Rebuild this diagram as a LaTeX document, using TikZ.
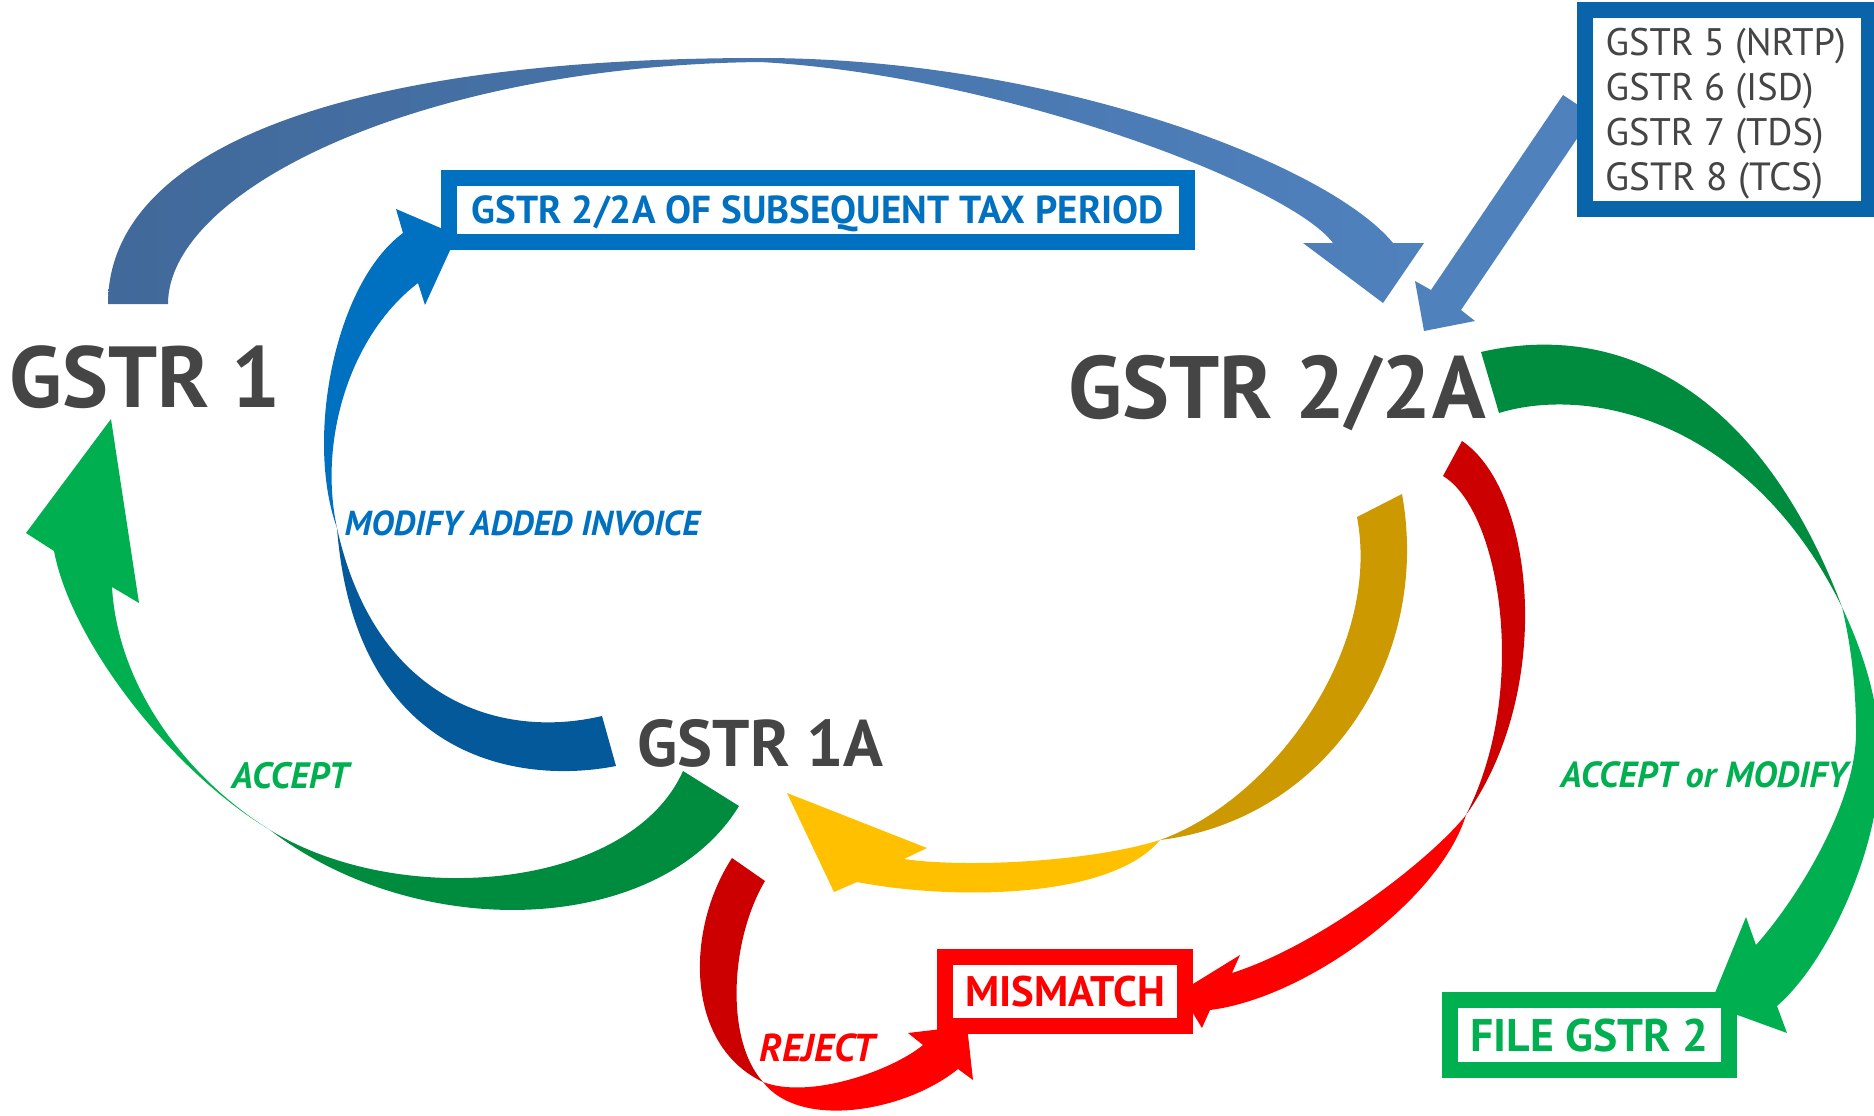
\documentclass[tikz,border=0pt]{standalone}
\usepackage{fontspec}
\setmainfont{PT Sans}
\usepackage{graphicx}
\definecolor{txtgray}{HTML}{454545}
\definecolor{boxblue}{HTML}{0070C0}
\definecolor{boxblueD}{HTML}{0A64A9}
\definecolor{arcL}{HTML}{41699A}
\definecolor{arcR}{HTML}{4F81BD}
\definecolor{modD}{HTML}{03599A}
\definecolor{greenD}{HTML}{008C3E}
\definecolor{greenB}{HTML}{00B050}
\definecolor{goldD}{HTML}{CC9900}
\definecolor{goldB}{HTML}{FFC000}
\definecolor{redD}{HTML}{CC0000}
\definecolor{redB}{HTML}{FF0000}
\newcommand{\fitw}[2]{\resizebox{#1}{!}{#2}}
\tikzset{
  big/.style={anchor=base west, inner sep=0pt, text=txtgray, font=\bfseries},
  small/.style={anchor=base west, inner sep=0pt, text=txtgray},
  lbl/.style={anchor=base west, inner sep=0pt, font=\bfseries\itshape},
  framebox/.style={draw, line width=1.6mm, fill=white, inner sep=0pt, text depth=0pt, font=\bfseries},
}
\begin{document}
\begin{tikzpicture}[x=0.1mm,y=-0.1mm]
\useasboundingbox (0,0) rectangle (1874,1116);

% top arc GSTR 1 -> GSTR 2/2A
\shade[left color=arcL, right color=arcR]
  (108,304) .. controls (108,150) and (340,58) .. (760,58)
  .. controls (1050,58) and (1327,163) .. (1393,243)
  -- (1424,243) -- (1383,303) -- (1303,243) -- (1333,243)
  .. controls (1290,185) and (1000,75) .. (760,62)
  .. controls (420,66) and (168,190) .. (168,304) -- cycle;

% straight arrow from GSTR 5-8 box
\fill[arcR] (1563,95) -- (1431,290) -- (1415,281) -- (1424,331) -- (1475,321) -- (1461,310) -- (1593,115) -- cycle;

% modify added invoice arrow
\fill[modD] (616,766) .. controls (520,785) and (355,760) .. (337,528)
  .. controls (375,700) and (500,740) .. (602,716) -- cycle;
\fill[boxblue] (337,528) .. controls (305,440) and (334,284) .. (403,233)
  -- (396,209) -- (457,235) -- (425,305) -- (418,283)
  .. controls (350,335) and (318,440) .. (337,528) -- cycle;

% accept arrow GSTR 1A -> GSTR 1
\fill[greenD] (739,806) .. controls (660,935) and (420,945) .. (270,830)
  .. controls (400,910) and (630,890) .. (683,771) -- cycle;
\fill[greenB] (270,830) .. controls (170,770) and (71,641) .. (54,551)
  -- (26,533) -- (111,419) -- (139,603) -- (112,587)
  .. controls (118,690) and (190,780) .. (270,830) -- cycle;

% yellow arrow GSTR 2/2A -> GSTR 1A
\fill[goldD] (1402,494) .. controls (1432,660) and (1325,820) .. (1160,840)
  .. controls (1272,800) and (1382,650) .. (1357,517) -- cycle;
\fill[goldB] (1160,840) .. controls (1090,862) and (965,868) .. (904,859)
  -- (927,848) -- (787,793) -- (834,892) -- (857,882)
  .. controls (950,900) and (1110,900) .. (1160,840) -- cycle;

% red arrow GSTR 2/2A -> MISMATCH
\fill[redD] (1462,441) .. controls (1535,490) and (1555,690) .. (1466,815)
  .. controls (1530,690) and (1500,510) .. (1443,476) -- cycle;
\fill[redB] (1466,815) .. controls (1440,900) and (1306,998) .. (1210,1010)
  -- (1202,1028) -- (1180,992) -- (1240,955) -- (1232,973)
  .. controls (1320,945) and (1430,860) .. (1466,815) -- cycle;

% reject arrow GSTR 1A -> MISMATCH
\fill[redD] (732,858) .. controls (685,930) and (685,1045) .. (763,1082)
  .. controls (725,1040) and (730,940) .. (765,881) -- cycle;
\fill[redB] (763,1082) .. controls (810,1100) and (893,1070) .. (923,1045)
  -- (908,1033) -- (967,1026) -- (973,1080) -- (958,1069)
  .. controls (905,1112) and (800,1130) .. (763,1082) -- cycle;

% accept or modify arrow GSTR 2/2A -> FILE GSTR 2
\fill[greenD] (1481,352) .. controls (1620,320) and (1760,390) .. (1842,607)
  .. controls (1750,420) and (1590,385) .. (1499,413) -- cycle;
\fill[greenB] (1842,607) .. controls (1862,650) and (1880,700) .. (1880,760)
  .. controls (1880,850) and (1827,963) .. (1777,1006)
  -- (1787,1033) -- (1710,1005) -- (1746,917) -- (1756,945)
  .. controls (1802,893) and (1856,800) .. (1856,733)
  .. controls (1856,690) and (1852,650) .. (1842,607) -- cycle;

% boxes
\node[framebox, draw=boxblue, text=boxblue, minimum width=7.38cm, minimum height=0.64cm] (subseq) at (818,210) {\fitw{6.92cm}{GSTR 2/2A OF SUBSEQUENT TAX PERIOD}};
\node[framebox, draw=redB, text=redB, minimum width=2.40cm, minimum height=0.69cm] (mismatch) at (1065,991.5) {\fitw{2.0cm}{MISMATCH}};
\node[framebox, draw=greenB, text=greenB, minimum width=2.79cm, minimum height=0.70cm] (filegstr) at (1589.5,1035) {\fitw{2.38cm}{FILE GSTR 2}};
\node[framebox, draw=boxblueD, minimum width=2.84cm, minimum height=1.99cm] (others) at (1727,109.5) {};

\node[small] (o5) at (1605,55) {\fitw{2.40cm}{GSTR 5 (NRTP)}};
\node[small] (o6) at (1605,100) {\fitw{2.08cm}{GSTR 6 (ISD)}};
\node[small] (o7) at (1605,145) {\fitw{2.18cm}{GSTR 7 (TDS)}};
\node[small] (o8) at (1605,190) {\fitw{2.18cm}{GSTR 8 (TCS)}};

% main labels
\node[big] (g1) at (9,407) {\fitw{2.71cm}{GSTR 1}};
\node[big] (g2) at (1068,418) {\fitw{4.17cm}{GSTR 2/2A}};
\node[big] (g1a) at (637,766) {\fitw{2.46cm}{GSTR 1A}};

% arrow labels
\node[lbl, text=boxblue] (lmod) at (344,535) {\fitw{3.55cm}{MODIFY ADDED INVOICE}};
\node[lbl, text=greenB] (lacc) at (231,788) {\fitw{1.17cm}{ACCEPT}};
\node[lbl, text=redB] (lrej) at (759,1061) {\fitw{1.15cm}{REJECT}};
\node[lbl, text=greenB] (laccm) at (1560,787) {\fitw{2.87cm}{ACCEPT or MODIFY}};
\end{tikzpicture}
\end{document}
